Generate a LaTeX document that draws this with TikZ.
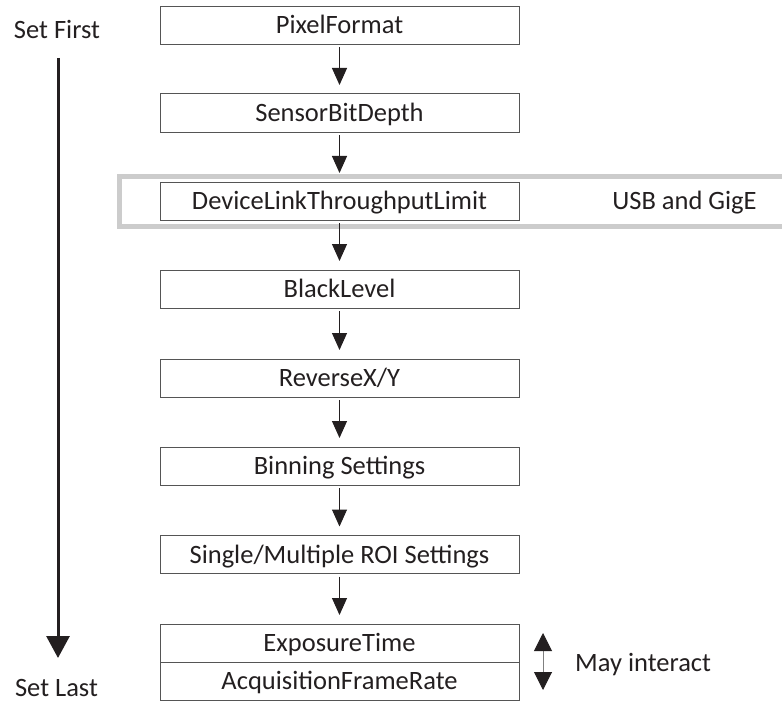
\documentclass[tikz,border=0pt]{standalone}
\usepackage{fontspec}
\setmainfont{Carlito}
\usetikzlibrary{arrows.meta}
\definecolor{ink}{HTML}{231F20}
\definecolor{framegray}{HTML}{CCCCCC}
\definecolor{edge}{HTML}{555555}
\tikzset{
  lbl/.style={font=\fontsize{26.5bp}{30bp}\selectfont, text=ink, inner sep=0pt},
  stepbox/.style={lbl, draw=edge, line width=1bp, minimum width=359bp,
    minimum height=38bp, outer sep=0pt, text height=19bp, text depth=2bp},
  flow/.style={draw=ink, line width=1bp, -{Triangle[width=15bp,length=17bp]}},
  bigflow/.style={draw=ink, line width=3bp, -{Triangle[width=23bp,length=22bp]}},
  twoway/.style={draw=black!50, line width=1bp,
    {Triangle[width=18bp,length=18bp,color=ink]}-{Triangle[width=18bp,length=18bp,color=ink]}},
  groupframe/.style={draw=framegray, line width=5bp},
}
\begin{document}
\begin{tikzpicture}[x=1bp,y=-1bp]
\useasboundingbox (0,0) rectangle (782,704);

% frame around the interface-specific parameter, open to the right
\draw[groupframe] (782,176.5) -- (119.5,176.5) -- (119.5,226.5) -- (782,226.5);

% parameter chain
\node[stepbox] (pf)  at (339.5,25.5) {PixelFormat};
\node[stepbox] (sbd) at (339.5,113)  {SensorBitDepth};
\node[stepbox] (dl)  at (339.5,201)  {DeviceLinkThroughputLimit};
\node[stepbox] (bl)  at (339.5,289)  {BlackLevel};
\node[stepbox] (rx)  at (339.5,378)  {ReverseX/Y};
\node[stepbox] (bin) at (339.5,466)  {Binning Settings};
\node[stepbox] (roi) at (339.5,554.5) {Single/Multiple ROI Settings};
\node[stepbox] (exp) at (339.5,643)  {ExposureTime};
\node[stepbox] (acq) at (339.5,681)  {AcquisitionFrameRate};

\foreach \a/\b in {pf/sbd, sbd/dl, dl/bl, bl/rx, rx/bin, bin/roi, roi/exp}
  \draw[flow] ([yshift=-3bp]\a.south) -- ([yshift=9bp]\b.north);

% side notes
\node[lbl, anchor=base] (usb) at (684.5,209.5) {USB and GigE};
\coordinate (mitop) at (543,633);
\coordinate (mibot) at (543,690);
\draw[twoway] (mitop) -- (mibot);
\node[lbl, anchor=base west] (mi) at (575,671) {May interact};

% overall order
\node[lbl, anchor=base] (first) at (57,39) {Set First};
\node[lbl, anchor=base] (last)  at (56.5,696.5) {Set Last};
\coordinate (bigtop) at (58,58);
\coordinate (bigend) at (58,658);
\draw[bigflow] (bigtop) -- (bigend);
\end{tikzpicture}
\end{document}
